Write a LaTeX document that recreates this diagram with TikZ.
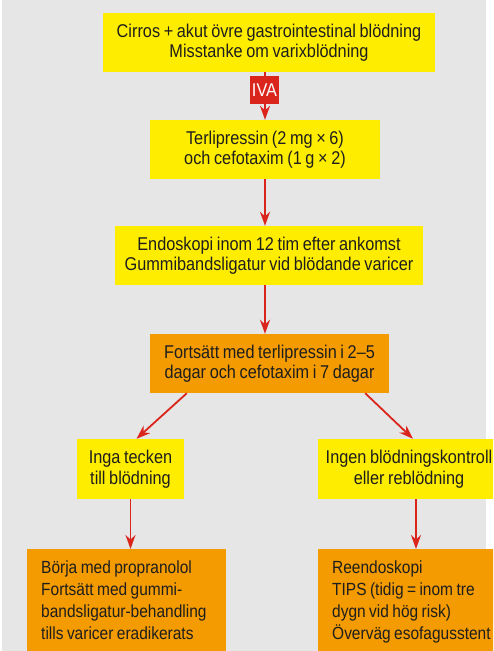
\documentclass[tikz,border=0pt]{standalone}
\usepackage{fontspec}
\setmainfont{Liberation Sans}[FakeStretch=0.88,WordSpace=0.8]
\usetikzlibrary{arrows.meta}
\definecolor{vyellow}{HTML}{FFED00}
\definecolor{vorange}{HTML}{F39B00}
\definecolor{vred}{HTML}{DA251D}
\definecolor{vgray}{HTML}{E6E6E6}
\definecolor{vtext}{HTML}{1E1E1E}
\begin{document}
\begin{tikzpicture}[x=1pt,y=-1pt,
  every node/.style={font=\fontsize{18.5}{20.5}\selectfont,text=vtext,inner sep=0pt},
  gulbox/.style={fill=vyellow,minimum height=59pt,align=center},
  orabox/.style={fill=vorange,align=flush left,anchor=north west,inner xsep=14pt,inner ysep=12pt,font=\fontsize{17.6}{22}\selectfont},
  pil/.style={draw=vred,line width=1.8pt,-{Stealth[length=14pt,width=10pt]}}]
\useasboundingbox (0,0) rectangle (493,651);
\clip (0,0) rectangle (493,651);
\fill[vgray] (2,0) rectangle (486,651);
% main column
\node[gulbox,minimum width=332pt] (cirros) at (269,42.5) {Cirros + akut övre gastrointestinal blödning\\Misstanke om varixblödning};
\node[gulbox,minimum width=230pt] (terli) at (265,149.5) {Terlipressin (2 mg × 6)\\och cefotaxim (1 g × 2)};
\node[gulbox,minimum width=308pt] (endo) at (269,255.5) {Endoskopi inom 12 tim efter ankomst\\Gummibandsligatur vid blödande varicer};
\node[gulbox,fill=vorange,minimum width=239pt] (fort) at (269.5,363.5) {Fortsätt med terlipressin i 2–5\\dagar och cefotaxim i 7 dagar};
% branches
\node[gulbox,minimum width=107pt,minimum height=60pt] (inga) at (130.5,469) {Inga tecken\\till blödning};
\node[gulbox,minimum width=182pt,minimum height=60pt] (ingen) at (409,469) {Ingen blödningskontroll\\eller reblödning};
\node[orabox,text width=171pt] (borja) at (27,549) {Börja med propranolol\\Fortsätt med gummi-\\bandsligatur-behandling\\tills varicer eradikerats};
\node[orabox,text width=190pt] (reendo) at (318,549) {Reendoskopi\\TIPS (tidig = inom tre\\dygn vid hög risk)\\Överväg esofagusstent};
\draw[pil] (cirros.south -| terli) -- (terli.north);
\node[fill=vred,text=white,minimum width=29pt,minimum height=28pt] (iva) at (264.5,90) {IVA};
\draw[pil] (terli.south) -- (terli.south |- endo.north);
\draw[pil] (endo.south -| terli) -- (fort.north -| terli);
\draw[pil] ([xshift=37pt]fort.south west) -- ([xshift=6pt]inga.north);
\draw[pil] ([xshift=-24pt]fort.south east) -- ([xshift=4pt]ingen.north);
\draw[pil] (inga.south) -- (inga.south |- borja.north);
\draw[pil] ([xshift=7pt]ingen.south) -- ([xshift=7pt]ingen.south |- reendo.north);
\end{tikzpicture}
\end{document}
